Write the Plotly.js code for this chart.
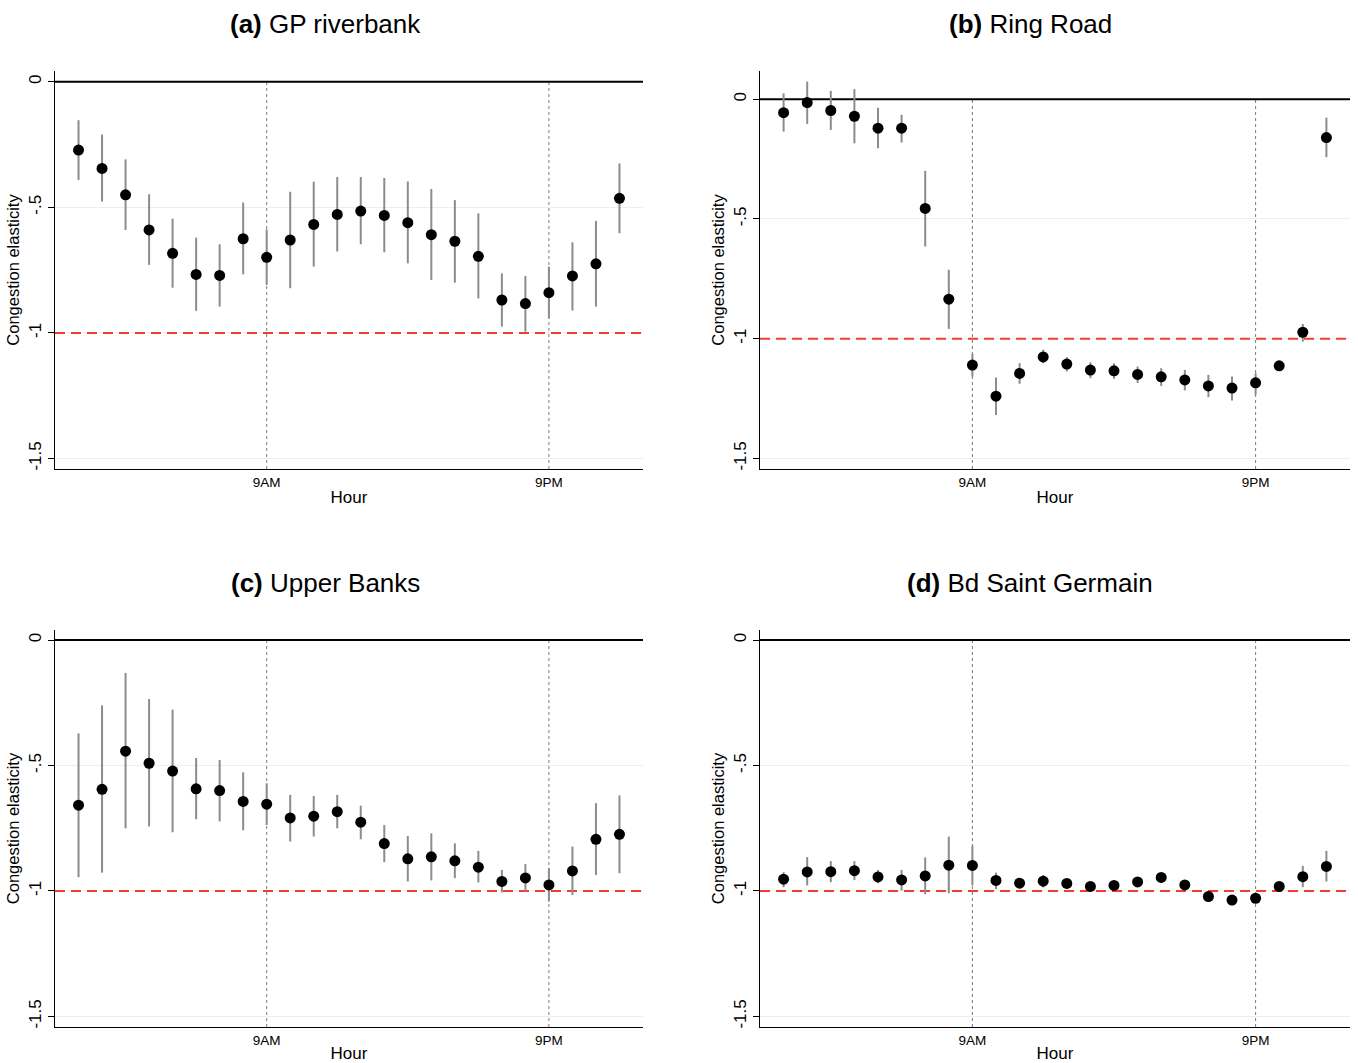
<!DOCTYPE html>
<html>
<head>
<meta charset="utf-8">
<script src="https://cdn.plot.ly/plotly-3.0.1.min.js"></script>
<style>html,body{margin:0;padding:0;background:#fff;}#chart{width:1358px;height:1063px;}</style>
</head>
<body>
<div id="chart"></div>
<script>
// Hours of the day (1..24)
const hours = [1,2,3,4,5,6,7,8,9,10,11,12,13,14,15,16,17,18,19,20,21,22,23,24];

// (a) GP riverbank
const estA = [-0.272,-0.345,-0.450,-0.590,-0.683,-0.767,-0.771,-0.625,-0.699,-0.630,-0.568,-0.528,-0.515,-0.532,-0.561,-0.609,-0.635,-0.695,-0.869,-0.883,-0.840,-0.773,-0.725,-0.464];
const hiA  = [-0.153,-0.210,-0.309,-0.448,-0.545,-0.621,-0.647,-0.481,-0.588,-0.438,-0.398,-0.379,-0.379,-0.383,-0.397,-0.427,-0.471,-0.524,-0.763,-0.773,-0.736,-0.639,-0.554,-0.325];
const loA  = [-0.391,-0.477,-0.590,-0.729,-0.820,-0.912,-0.895,-0.767,-0.809,-0.822,-0.736,-0.676,-0.647,-0.679,-0.723,-0.789,-0.800,-0.863,-0.975,-0.995,-0.942,-0.911,-0.895,-0.603];

// (b) Ring Road
const estB = [-0.056,-0.014,-0.047,-0.071,-0.121,-0.121,-0.456,-0.835,-1.110,-1.240,-1.145,-1.076,-1.106,-1.131,-1.134,-1.149,-1.159,-1.172,-1.197,-1.206,-1.184,-1.113,-0.973,-0.160];
const hiB  = [0.025,0.074,0.035,0.042,-0.035,-0.065,-0.299,-0.712,-1.063,-1.162,-1.102,-1.046,-1.077,-1.098,-1.102,-1.116,-1.123,-1.130,-1.151,-1.158,-1.144,-1.095,-0.938,-0.077];
const loB  = [-0.135,-0.103,-0.128,-0.184,-0.205,-0.181,-0.615,-0.959,-1.158,-1.318,-1.188,-1.102,-1.137,-1.165,-1.167,-1.185,-1.197,-1.216,-1.244,-1.258,-1.234,-1.133,-1.012,-0.242];

// (c) Upper Banks
const estC = [-0.658,-0.595,-0.443,-0.491,-0.522,-0.593,-0.600,-0.643,-0.654,-0.709,-0.702,-0.684,-0.726,-0.811,-0.872,-0.864,-0.880,-0.905,-0.962,-0.948,-0.976,-0.920,-0.794,-0.774];
const hiC  = [-0.372,-0.260,-0.131,-0.235,-0.277,-0.470,-0.478,-0.527,-0.571,-0.617,-0.621,-0.617,-0.660,-0.737,-0.781,-0.770,-0.810,-0.840,-0.916,-0.893,-0.909,-0.823,-0.650,-0.619];
const loC  = [-0.945,-0.927,-0.750,-0.743,-0.766,-0.714,-0.723,-0.758,-0.737,-0.803,-0.783,-0.750,-0.794,-0.885,-0.962,-0.958,-0.949,-0.966,-1.006,-1.002,-1.042,-1.016,-0.936,-0.929];

// (d) Bd Saint Germain
const estD = [-0.953,-0.924,-0.923,-0.919,-0.944,-0.956,-0.940,-0.897,-0.898,-0.958,-0.969,-0.961,-0.970,-0.982,-0.978,-0.964,-0.946,-0.976,-1.022,-1.036,-1.029,-0.982,-0.943,-0.902];
const hiD  = [-0.925,-0.865,-0.881,-0.881,-0.916,-0.916,-0.866,-0.783,-0.820,-0.927,-0.949,-0.936,-0.953,-0.966,-0.962,-0.945,-0.929,-0.958,-1.006,-1.020,-1.012,-0.962,-0.900,-0.840];
const loD  = [-0.985,-0.978,-0.965,-0.956,-0.969,-0.998,-1.013,-1.009,-0.978,-0.992,-0.989,-0.986,-0.989,-0.998,-0.996,-0.982,-0.966,-0.993,-1.039,-1.051,-1.046,-0.998,-0.985,-0.962];

const panelTitles = ['<b>(a)</b> GP riverbank','<b>(b)</b> Ring Road','<b>(c)</b> Upper Banks','<b>(d)</b> Bd Saint Germain'];
const xTickVals = [9, 21];
const xTickText = ['9AM', '9PM'];
const yTickVals = [0, -0.5, -1, -1.5];
const yTickText = ['0', '-.5', '-1', '-1.5'];
const refHours = [9, 21];
const benchmark = -1;
const xRange = [0, 25];

const panels = [
  {est: estA, hi: hiA, lo: loA},
  {est: estB, hi: hiB, lo: loB},
  {est: estC, hi: hiC, lo: loC},
  {est: estD, hi: hiD, lo: loD}
];

const W = 1358, H = 1063;
const xDom = [[55/W, 643/W], [760/W, 1350/W], [55/W, 643/W], [760/W, 1350/W]];
const yDom = [[1-469/H, 1-71/H], [1-469/H, 1-71/H], [1-1027/H, 1-630/H], [1-1027/H, 1-630/H]];
const yRanges = [[-1.542, 0.043], [-1.544, 0.118], [-1.542, 0.040], [-1.542, 0.040]];
const titlePos = [[325/W, 1-24/H], [1030/W, 1-24/H], [325/W, 1-583/H], [1030/W, 1-583/H]];

const FONT = 'Liberation Sans, Arial, Helvetica, sans-serif';
const traces = [];
const layout = {
  width: W, height: H,
  margin: {l:0, r:0, t:0, b:0},
  paper_bgcolor: '#fff', plot_bgcolor: '#fff',
  showlegend: false,
  font: {family: FONT, color: '#000'},
  annotations: []
};

panels.forEach((p, i) => {
  const n = i === 0 ? '' : String(i+1);
  const xa = 'x' + n, ya = 'y' + n;
  // vertical reference hours (dotted)
  refHours.forEach(h => {
    traces.push({type: 'scatter', mode: 'lines', xaxis: xa, yaxis: ya,
      x: [h, h], y: [yRanges[i][0], 0],
      line: {color: '#7a7a7a', width: 1, dash: 'dot'}, hoverinfo: 'skip'});
  });
  // zero reference line
  traces.push({type: 'scatter', mode: 'lines', xaxis: xa, yaxis: ya,
    x: xRange, y: [0, 0], line: {color: '#000', width: 2}, hoverinfo: 'skip'});
  // benchmark line at -1
  traces.push({type: 'scatter', mode: 'lines', xaxis: xa, yaxis: ya,
    x: xRange, y: [benchmark, benchmark], line: {color: '#f03c33', width: 2, dash: '10px,6px'}, hoverinfo: 'skip'});
  traces.push({
    type: 'scatter', mode: 'markers', xaxis: xa, yaxis: ya,
    x: hours, y: p.est,
    marker: {color: '#000', size: 11},
    error_y: {
      type: 'data', symmetric: false,
      array: p.hi.map((v, k) => v - p.est[k]),
      arrayminus: p.est.map((v, k) => v - p.lo[k]),
      width: 0, thickness: 2, color: '#8c8c8c'
    },
    hoverinfo: 'x+y'
  });
  layout['xaxis' + n] = {
    domain: xDom[i], anchor: ya, range: xRange,
    tickvals: xTickVals, ticktext: xTickText, ticks: '',
    tickfont: {size: 13.5, family: FONT},
    showgrid: false, zeroline: false,
    showline: true, linecolor: '#000', linewidth: 1.3,
    title: {text: 'Hour', font: {size: 17, family: FONT}, standoff: 2},
    automargin: false, fixedrange: true
  };
  layout['yaxis' + n] = {
    domain: yDom[i], anchor: xa, range: yRanges[i],
    tickvals: yTickVals, ticktext: yTickText,
    ticks: 'outside', ticklen: 6, tickwidth: 1, tickcolor: '#000',
    tickangle: -90, tickfont: {size: 17, family: FONT},
    showgrid: true, gridcolor: '#e8f0f0', gridwidth: 1,
    zeroline: false,
    showline: true, linecolor: '#000', linewidth: 1.3,
    title: {text: 'Congestion elasticity', font: {size: 16.5, family: FONT}, standoff: 2},
    automargin: false, fixedrange: true
  };
  layout.annotations.push({
    text: panelTitles[i], xref: 'paper', yref: 'paper',
    x: titlePos[i][0], y: titlePos[i][1], xanchor: 'center', yanchor: 'middle',
    showarrow: false, font: {size: 26, family: FONT, color: '#000'}
  });
});

Plotly.newPlot('chart', traces, layout, {displayModeBar: false, staticPlot: true});
</script>
</body>
</html>
